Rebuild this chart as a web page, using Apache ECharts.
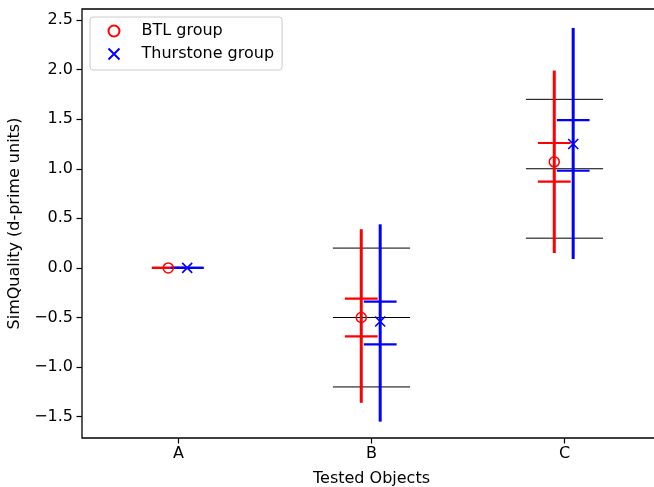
<!DOCTYPE html>
<html>
<head>
<meta charset="utf-8">
<script src="https://cdn.jsdelivr.net/npm/echarts@6/dist/echarts.min.js"></script>
<style>
  html, body { margin: 0; background: #fff; }
  #chart { width: 654px; height: 487px; }
</style>
</head>
<body>
<div id="chart"></div>
<script>
const objects = ["A", "B", "C"];

// BTL group: mean, inner interval (short caps), outer range (vertical bar)
const btlMean = [0, -0.5, 1.07];
const btlInnerLow = [0, -0.69, 0.87];
const btlInnerHigh = [0, -0.31, 1.26];
const btlOuterLow = [0, -1.36, 0.15];
const btlOuterHigh = [0, 0.39, 1.99];

// Thurstone group
const thuMean = [0, -0.54, 1.25];
const thuInnerLow = [0, -0.77, 0.98];
const thuInnerHigh = [0, -0.34, 1.49];
const thuOuterLow = [0, -1.55, 0.09];
const thuOuterHigh = [0, 0.44, 2.42];

// black reference lines (none for A)
const refLow = [null, -1.2, 0.3];
const refMid = [null, -0.5, 1.0];
const refHigh = [null, 0.2, 1.7];

const yTicks = [-1.5, -1, -0.5, 0, 0.5, 1, 1.5, 2, 2.5];
const xTicks = [0, 1, 2];

const FONT = "DejaVu Sans";
const btlOffset = -0.053;
const thuOffset = 0.045;

function groupRows(offset, mean, inLo, inHi, outLo, outHi) {
  return objects.map((_, i) => [i + offset, mean[i], inLo[i], inHi[i], outLo[i], outHi[i]]);
}

function errorItem(color) {
  return (params, api) => {
    const x = api.value(0);
    const half = api.size([0.085, 0])[0];
    const top = api.coord([x, api.value(5)]);
    const bot = api.coord([x, api.value(4)]);
    const lo = api.coord([x, api.value(2)]);
    const hi = api.coord([x, api.value(3)]);
    return {
      type: "group",
      children: [
        { type: "line", shape: { x1: top[0], y1: top[1], x2: bot[0], y2: bot[1] }, style: { stroke: color, lineWidth: 3 } },
        { type: "line", shape: { x1: lo[0] - half, y1: lo[1], x2: lo[0] + half, y2: lo[1] }, style: { stroke: color, lineWidth: 2.2 } },
        { type: "line", shape: { x1: hi[0] - half, y1: hi[1], x2: hi[0] + half, y2: hi[1] }, style: { stroke: color, lineWidth: 2.2 } },
      ],
    };
  };
}

function refItem(params, api) {
  const x = api.value(0);
  const half = api.size([0.2, 0])[0];
  const children = [1, 2, 3].map((k) => {
    const p = api.coord([x, api.value(k)]);
    return { type: "line", shape: { x1: p[0] - half, y1: p[1], x2: p[0] + half, y2: p[1] }, style: { stroke: "#000", lineWidth: 1 } };
  });
  return { type: "group", children };
}

const refRows = objects
  .map((_, i) => [i, refLow[i], refMid[i], refHigh[i]])
  .filter((r) => r[1] !== null);

const fmtY = (v) => v.toFixed(1).replace("-", "\u2212");

const chart = echarts.init(document.getElementById("chart"), null, { renderer: "canvas" });
chart.setOption({
  animation: false,
  textStyle: { fontFamily: FONT },
  grid: {
    left: 82, right: -7, top: 9, bottom: 49,
    outerBoundsMode: "none",
    containLabel: false,
    show: true, borderColor: "#000", borderWidth: 1.3, backgroundColor: "transparent",
  },
  legend: {
    orient: "vertical",
    left: 90, top: 17,
    padding: [6, 8, 8, 16],
    itemGap: 7,
    itemWidth: 11, itemHeight: 11,
    borderColor: "#cccccc", borderWidth: 1, borderRadius: 3,
    backgroundColor: "rgba(255,255,255,0.8)",
    textStyle: { fontFamily: FONT, fontSize: 16, color: "#000", padding: [0, 0, 0, 17] },
    data: ["BTL group", "Thurstone group"],
  },
  xAxis: {
    type: "value",
    min: -0.5, max: 2.5,
    name: "Tested Objects",
    nameLocation: "middle",
    nameGap: 33,
    nameTextStyle: { fontFamily: FONT, fontSize: 16, color: "#000" },
    splitLine: { show: false },
    axisLine: { show: false, onZero: false },
    axisTick: { show: true, inside: false, length: 5.5, lineStyle: { color: "#000", width: 1.2 }, customValues: xTicks },
    axisLabel: {
      fontFamily: FONT, fontSize: 16, color: "#000", margin: 8,
      customValues: xTicks,
      formatter: (v) => objects[Math.round(v)] ?? "",
    },
  },
  yAxis: {
    type: "value",
    min: -1.715, max: 2.611,
    name: "SimQuality (d-prime units)",
    nameLocation: "middle",
    nameGap: 56,
    nameTextStyle: { fontFamily: FONT, fontSize: 16, color: "#000" },
    splitLine: { show: false },
    axisLine: { show: false, onZero: false },
    axisTick: { show: true, inside: false, length: 5.5, lineStyle: { color: "#000", width: 1.2 }, customValues: yTicks },
    axisLabel: {
      fontFamily: FONT, fontSize: 16, color: "#000", margin: 9,
      customValues: yTicks,
      formatter: fmtY,
    },
  },
  series: [
    {
      type: "custom",
      name: "ref",
      renderItem: refItem,
      encode: { x: 0, y: [1, 2, 3] },
      data: refRows,
      z: 1,
    },
    {
      type: "custom",
      name: "btl-err",
      renderItem: errorItem("#ff0000"),
      encode: { x: 0, y: [1, 2, 3, 4, 5] },
      data: groupRows(btlOffset, btlMean, btlInnerLow, btlInnerHigh, btlOuterLow, btlOuterHigh),
      z: 2,
    },
    {
      type: "custom",
      name: "thu-err",
      renderItem: errorItem("#0000ff"),
      encode: { x: 0, y: [1, 2, 3, 4, 5] },
      data: groupRows(thuOffset, thuMean, thuInnerLow, thuInnerHigh, thuOuterLow, thuOuterHigh),
      z: 3,
    },
    {
      type: "scatter",
      name: "BTL group",
      symbol: "circle",
      symbolSize: 10,
      itemStyle: { color: "none", borderColor: "#ff0000", borderWidth: 1.5, opacity: 1 },
      data: objects.map((_, i) => [i + btlOffset, btlMean[i]]),
      z: 4,
    },
    {
      type: "scatter",
      name: "Thurstone group",
      symbol: "path://M0,0L10,10M10,0L0,10",
      symbolSize: 10,
      itemStyle: { color: "none", borderColor: "#0000ff", borderWidth: 1.6, opacity: 1 },
      data: objects.map((_, i) => [i + thuOffset, thuMean[i]]),
      z: 5,
    },
  ],
});
</script>
</body>
</html>
